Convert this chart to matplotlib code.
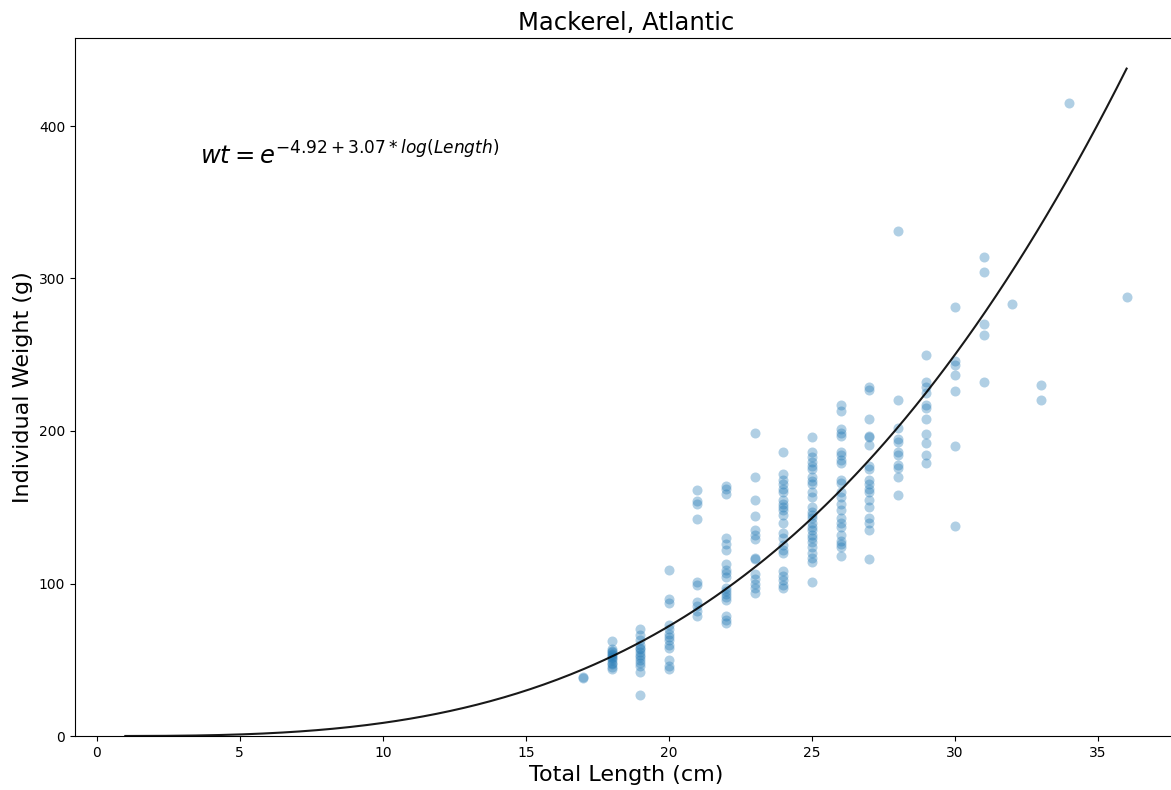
import numpy as np
import matplotlib
matplotlib.use("Agg")
import matplotlib.pyplot as plt

lengths = [17, 18, 19, 20, 21, 22, 23, 24, 25, 26, 27, 28, 29, 30, 31, 32, 33, 34, 36]
weights = [
    [38, 39],
    [62, 57, 56, 55, 54, 53, 52, 51, 50, 48, 47, 45, 44],
    [70, 66, 63, 60, 58, 57, 55, 53, 52, 50, 48, 46, 42, 27],
    [109, 90, 87, 73, 70, 67, 65, 63, 60, 58, 50, 46, 44],
    [161, 154, 152, 142, 101, 99, 88, 85, 82, 79],
    [164, 162, 159, 130, 126, 122, 113, 109, 107, 104, 97, 95, 93, 91, 89, 79, 76, 74],
    [199, 170, 155, 144, 135, 132, 129, 117, 116, 106, 103, 100, 97, 94],
    [186, 172, 168, 165, 162, 160, 155, 152, 150, 148, 145, 140, 133, 130, 125,
     122, 120, 108, 105, 102, 99, 97],
    [196, 186, 183, 180, 177, 175, 170, 167, 165, 160, 157, 150, 147, 145, 143,
     140, 137, 135, 132, 130, 127, 124, 120, 117, 114, 101],
    [217, 213, 201, 199, 197, 186, 184, 181, 179, 168, 166, 160, 157, 152, 148,
     143, 140, 137, 132, 128, 126, 124, 118],
    [229, 227, 208, 197, 196, 191, 177, 175, 168, 165, 162, 160, 155, 150, 143,
     140, 135, 116],
    [331, 220, 202, 195, 193, 186, 184, 178, 176, 170, 158],
    [250, 232, 229, 225, 217, 215, 208, 198, 192, 184, 179],
    [281, 246, 243, 237, 226, 190, 138],
    [314, 304, 270, 263, 232],
    [283],
    [230, 220],
    [415],
    [288],
]

# fitted length-weight relation
intercept = -4.92
slope = 3.07

xs = np.concatenate([[l] * len(w) for l, w in zip(lengths, weights)])
ys = np.concatenate(weights)

fig = plt.figure(figsize=(11.71, 7.90), dpi=100)
x0_px = 96.7
ppu = (1098 - x0_px) / 35.0  # pixels per cm
right_px = 1171 * 1.006
ax = fig.add_axes([75 / 1171, 1 - 736 / 790, (right_px - 75) / 1171, (736 - 38) / 790])

ax.scatter(xs, ys, s=52, color="tab:blue", alpha=0.35, linewidths=0)

fit_x = np.linspace(1, 36, 300)
fit_y = np.exp(intercept + slope * np.log(fit_x))
ax.plot(fit_x, fit_y, color="black", lw=1.5, alpha=0.9)

ax.text(3.6, 375, r"$wt = e^{%.2f + %.2f * log(Length)}$" % (intercept, slope),
        fontsize=17.5)

ax.set_xlim((75 - x0_px) / ppu, (right_px - x0_px) / ppu)
ax.set_ylim(0, (736 - 38) / 1.525)
ax.set_xticks(np.arange(0, 36, 5))
ax.set_yticks([0, 100, 200, 300, 400])
ax.tick_params(labelsize=10)

ax.set_title("Mackerel, Atlantic", fontsize=17.5)
ax.set_xlabel("Total Length (cm)", fontsize=16)
ax.set_ylabel("Individual Weight (g)", fontsize=16)

fig.savefig("out.png", dpi=100)
